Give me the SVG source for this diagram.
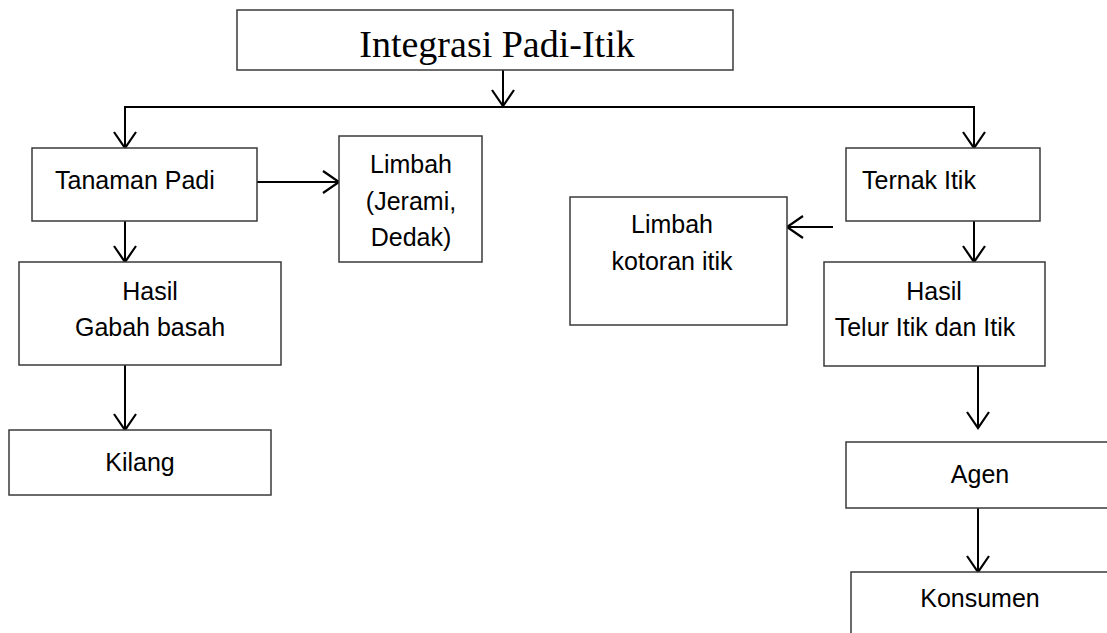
<svg xmlns="http://www.w3.org/2000/svg" width="1107" height="633" viewBox="0 0 1107 633">
<defs>
<style>
.box{fill:#fff;stroke:#3a3a3a;stroke-width:1.5}
.t{font-family:"Liberation Sans",Arial,sans-serif;font-size:25px;fill:#000}
.c{text-anchor:middle}
.title{font-family:"Liberation Serif","Times New Roman",serif;font-size:38px;fill:#000;text-anchor:middle}
.ln{fill:none;stroke:#000;stroke-width:2}
</style>
<marker id="ah" markerUnits="userSpaceOnUse" markerWidth="22" markerHeight="28" viewBox="0 0 22 28" refX="19" refY="14" orient="auto">
<path d="M3,3 L19,14 L3,25" fill="none" stroke="#000" stroke-width="2.2"/>
</marker>
</defs>
<rect width="1107" height="633" fill="#fff"/>
<g id="connectors">
<line class="ln" x1="503" y1="70" x2="503" y2="106" marker-end="url(#ah)"/>
<polyline class="ln" points="125,148 125,107 974,107 974,148"/>
<line class="ln" x1="125" y1="107" x2="125" y2="148" marker-end="url(#ah)"/>
<line class="ln" x1="974" y1="107" x2="974" y2="148" marker-end="url(#ah)"/>
<line class="ln" x1="257" y1="182" x2="339" y2="182" marker-end="url(#ah)"/>
<line class="ln" x1="125" y1="221" x2="125" y2="262" marker-end="url(#ah)"/>
<line class="ln" x1="125" y1="365" x2="125" y2="430" marker-end="url(#ah)"/>
<line class="ln" x1="833" y1="227" x2="787" y2="227" marker-end="url(#ah)"/>
<line class="ln" x1="974" y1="221" x2="974" y2="262" marker-end="url(#ah)"/>
<line class="ln" x1="978" y1="366" x2="978" y2="428" marker-end="url(#ah)"/>
<line class="ln" x1="978" y1="508" x2="978" y2="572" marker-end="url(#ah)"/>
</g>
<g id="node-title">
<rect class="box" x="237" y="10" width="496" height="60"/>
<text class="title" x="497" y="57">Integrasi Padi-Itik</text>
</g>
<g id="node-tanaman">
<rect class="box" x="32" y="148" width="225" height="73"/>
<text class="t" x="55" y="189">Tanaman Padi</text>
</g>
<g id="node-limbah-padi">
<rect class="box" x="339" y="136" width="143" height="126"/>
<text class="t c" x="411" y="173">Limbah</text>
<text class="t c" x="411" y="210">(Jerami,</text>
<text class="t c" x="411" y="246">Dedak)</text>
</g>
<g id="node-hasil-padi">
<rect class="box" x="19" y="262" width="262" height="103"/>
<text class="t c" x="150" y="300">Hasil</text>
<text class="t c" x="150" y="336">Gabah basah</text>
</g>
<g id="node-kilang">
<rect class="box" x="9" y="430" width="262" height="65"/>
<text class="t c" x="140" y="471">Kilang</text>
</g>
<g id="node-ternak">
<rect class="box" x="846" y="148" width="194" height="73"/>
<text class="t" x="862" y="189">Ternak Itik</text>
</g>
<g id="node-limbah-itik">
<rect class="box" x="570" y="197" width="217" height="128"/>
<text class="t c" x="672" y="233">Limbah</text>
<text class="t c" x="672" y="270">kotoran itik</text>
</g>
<g id="node-hasil-itik">
<rect class="box" x="824" y="262" width="221" height="104"/>
<text class="t c" x="934" y="300">Hasil</text>
<text class="t c" x="925" y="336">Telur Itik dan Itik</text>
</g>
<g id="node-agen">
<rect class="box" x="846" y="442" width="280" height="66"/>
<text class="t c" x="980" y="483">Agen</text>
</g>
<g id="node-konsumen">
<rect class="box" x="851" y="572" width="280" height="90"/>
<text class="t c" x="980" y="607">Konsumen</text>
</g>
</svg>
